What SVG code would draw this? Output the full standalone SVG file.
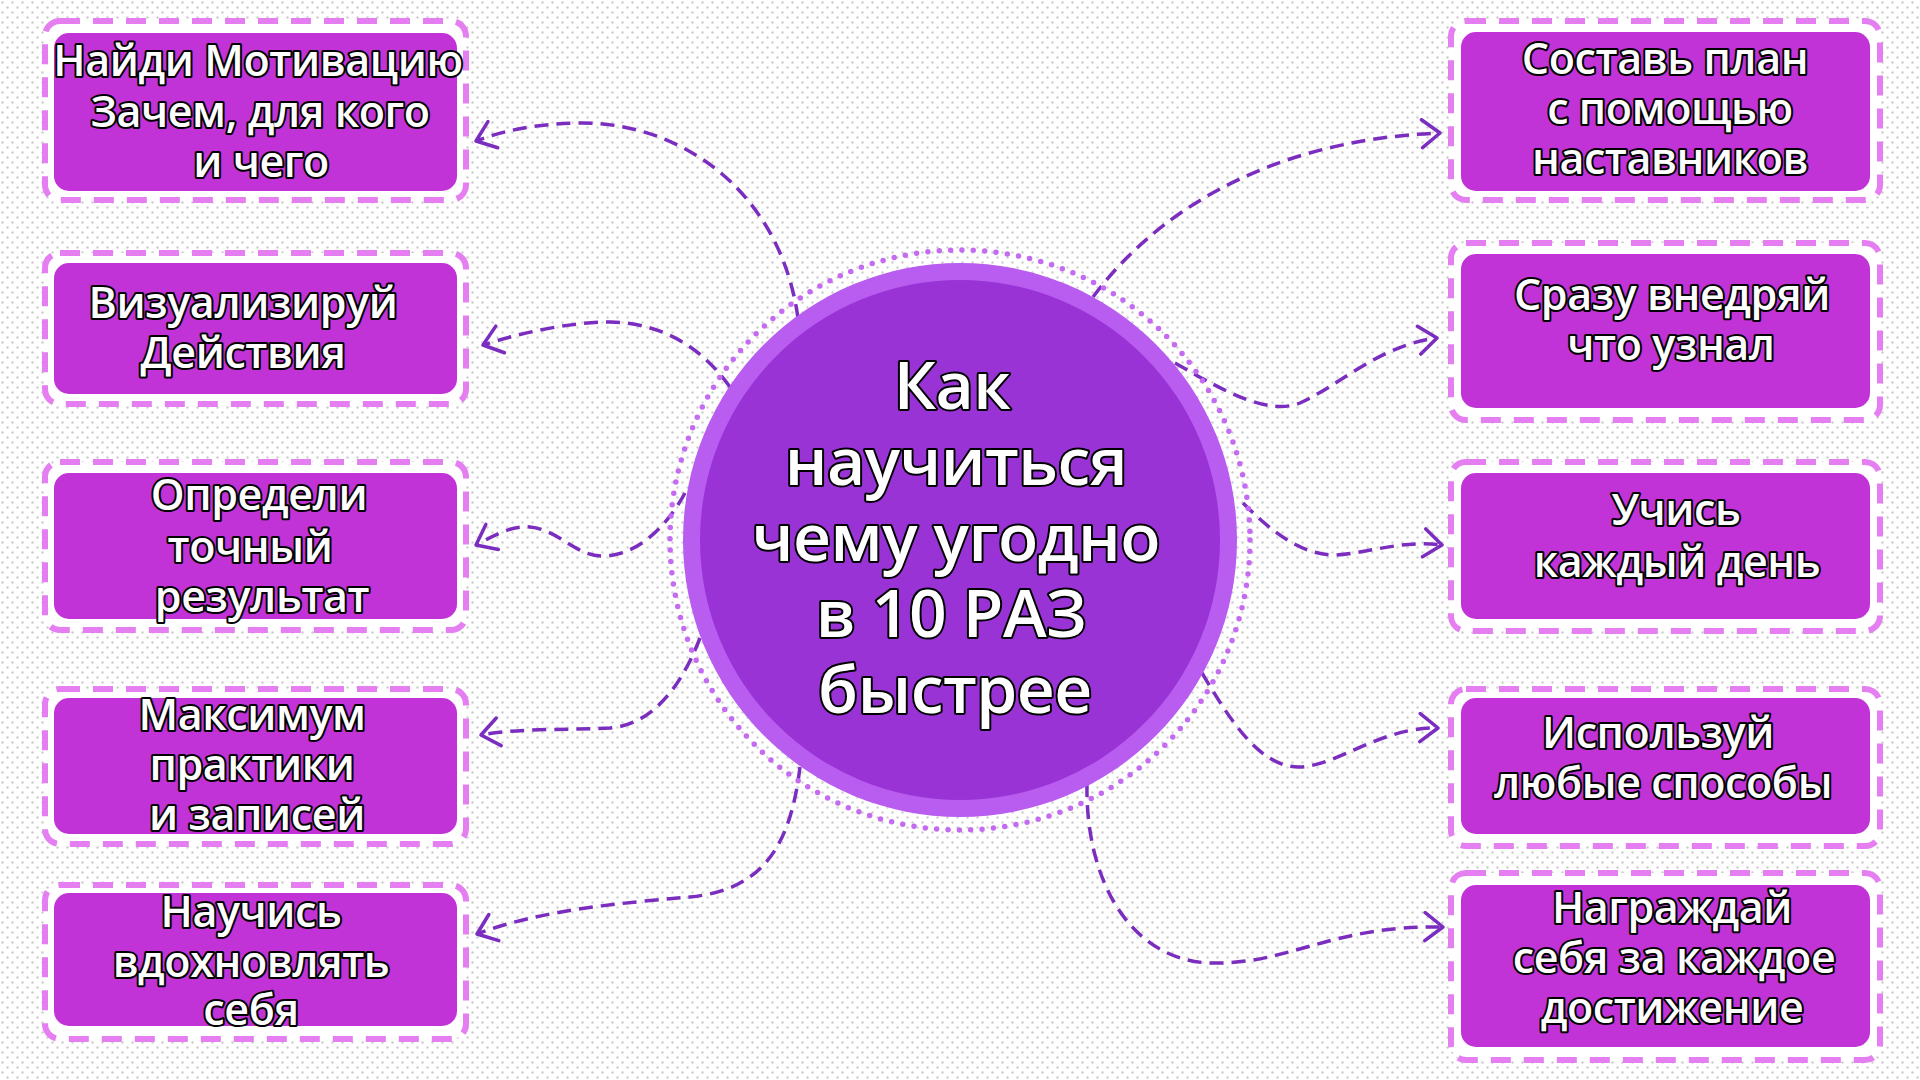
<svg xmlns="http://www.w3.org/2000/svg" width="1920" height="1080" viewBox="0 0 1920 1080">
<defs>
<pattern id="dots" width="10" height="10" patternUnits="userSpaceOnUse">
<rect width="10" height="10" fill="#ffffff"/>
<circle cx="2.5" cy="2.5" r="1.2" fill="#cdcdcd"/>
<circle cx="7.5" cy="7.5" r="1.2" fill="#cdcdcd"/>
</pattern>
<marker id="arr" viewBox="-22 -16 26 32" markerWidth="26" markerHeight="32" refX="0" refY="0" orient="auto" markerUnits="userSpaceOnUse">
<path d="M-18,-14 L0,0 L-18,14" fill="none" stroke="#7B2DBF" stroke-width="3.5" stroke-linecap="round" stroke-linejoin="round"/>
</marker>
<style>
.frame{fill:#ffffff;stroke:#E57EF1;stroke-width:6;stroke-dasharray:20 13;}
.fill{fill:#C133D7;}
.t{font-family:"Open Sans","Noto Sans","DejaVu Sans",sans-serif;font-size:43px;letter-spacing:-0.4px;font-weight:600;fill:#ffffff;stroke:#000000;stroke-width:4;stroke-linejoin:round;paint-order:stroke;text-anchor:middle;}
.big{font-size:66px;letter-spacing:-0.5px;}
.con{fill:none;stroke:#7B2DBF;stroke-width:3.5;stroke-dasharray:14 8;marker-end:url(#arr);}
</style>
</defs>
<rect width="1920" height="1080" fill="url(#dots)"/>

<g id="connectors">
<path class="con" d="M798,318 C780,190 680,122 580,123 C530,124 500,132 476,141"/>
<path class="con" d="M730,387 C700,345 660,323 610,322 C570,322 520,333 483,345"/>
<path class="con" d="M685,493 C665,530 635,555 605,556 C575,557 560,530 530,527 C510,525 490,538 476,545"/>
<path class="con" d="M700,638 C680,690 650,725 610,728 C570,730 520,728 481,735"/>
<path class="con" d="M800,767 C790,850 760,890 690,897 C620,903 540,910 477,934"/>
<path class="con" d="M1093,297 C1150,220 1260,140 1440,133"/>
<path class="con" d="M1175,363 C1230,395 1270,415 1300,403 C1340,385 1380,345 1437,338"/>
<path class="con" d="M1243,503 C1270,530 1300,555 1335,555 C1370,553 1400,540 1442,545"/>
<path class="con" d="M1202,673 C1230,720 1260,768 1300,767 C1340,765 1380,727 1438,728"/>
<path class="con" d="M1087,783 C1085,880 1130,960 1210,963 C1290,965 1330,925 1443,927"/>
</g>

<g id="center">
<circle cx="960" cy="540" r="290" fill="none" stroke="#C56BF2" stroke-width="5.5" stroke-dasharray="0 11.4" stroke-linecap="round"/>
<circle cx="960" cy="540" r="277" fill="#B95CF0"/>
<circle cx="960" cy="540" r="260" fill="#9933D6"/>
<text class="t big" x="952" y="409">Как</text>
<text class="t big" x="956" y="485">научиться</text>
<text class="t big" x="956" y="561">чему угодно</text>
<text class="t big" x="951" y="637">в 10 РАЗ</text>
<text class="t big" x="955" y="713">быстрее</text>
</g>

<g id="node-l1">
<rect class="frame" x="45" y="21" width="421" height="179" rx="15"/>
<rect class="fill" x="54" y="33" width="403" height="158" rx="15"/>
<text class="t" x="258" y="76">Найди Мотивацию</text>
<text class="t" x="260" y="127">Зачем, для кого</text>
<text class="t" x="261" y="177">и чего</text>
</g>
<g id="node-l2">
<rect class="frame" x="45" y="253" width="421" height="151" rx="15"/>
<rect class="fill" x="54" y="263" width="403" height="131" rx="15"/>
<text class="t" x="243" y="318">Визуализируй</text>
<text class="t" x="243" y="368">Действия</text>
</g>
<g id="node-l3">
<rect class="frame" x="45" y="462" width="421" height="168" rx="15"/>
<rect class="fill" x="54" y="473" width="403" height="146" rx="15"/>
<text class="t" x="259" y="510">Определи</text>
<text class="t" x="250" y="562">точный</text>
<text class="t" x="262" y="612">результат</text>
</g>
<g id="node-l4">
<rect class="frame" x="45" y="689" width="421" height="155" rx="15"/>
<rect class="fill" x="54" y="698" width="403" height="136" rx="15"/>
<text class="t" x="252" y="730">Максимум</text>
<text class="t" x="252" y="780">практики</text>
<text class="t" x="257" y="830">и записей</text>
</g>
<g id="node-l5">
<rect class="frame" x="45" y="885" width="421" height="154" rx="15"/>
<rect class="fill" x="54" y="893" width="403" height="133" rx="15"/>
<text class="t" x="251" y="927">Научись</text>
<text class="t" x="251" y="977">вдохновлять</text>
<text class="t" x="251" y="1025">себя</text>
</g>

<g id="node-r1">
<rect class="frame" x="1451" y="21" width="429" height="179" rx="15"/>
<rect class="fill" x="1461" y="32" width="409" height="159" rx="15"/>
<text class="t" x="1665" y="74">Составь план</text>
<text class="t" x="1670" y="124">с помощью</text>
<text class="t" x="1670" y="174">наставников</text>
</g>
<g id="node-r2">
<rect class="frame" x="1451" y="243" width="429" height="177" rx="15"/>
<rect class="fill" x="1461" y="254" width="409" height="154" rx="15"/>
<text class="t" x="1672" y="310">Сразу внедряй</text>
<text class="t" x="1671" y="360">что узнал</text>
</g>
<g id="node-r3">
<rect class="frame" x="1451" y="462" width="429" height="169" rx="15"/>
<rect class="fill" x="1461" y="473" width="409" height="146" rx="15"/>
<text class="t" x="1676" y="525">Учись</text>
<text class="t" x="1677" y="577">каждый день</text>
</g>
<g id="node-r4">
<rect class="frame" x="1451" y="689" width="429" height="157" rx="15"/>
<rect class="fill" x="1461" y="698" width="409" height="136" rx="15"/>
<text class="t" x="1658" y="748">Используй</text>
<text class="t" x="1663" y="798">любые способы</text>
</g>
<g id="node-r5">
<rect class="frame" x="1451" y="873" width="429" height="187" rx="15"/>
<rect class="fill" x="1461" y="885" width="409" height="162" rx="15"/>
<text class="t" x="1672" y="923">Награждай</text>
<text class="t" x="1674" y="973">себя за каждое</text>
<text class="t" x="1672" y="1023">достижение</text>
</g>
</svg>
